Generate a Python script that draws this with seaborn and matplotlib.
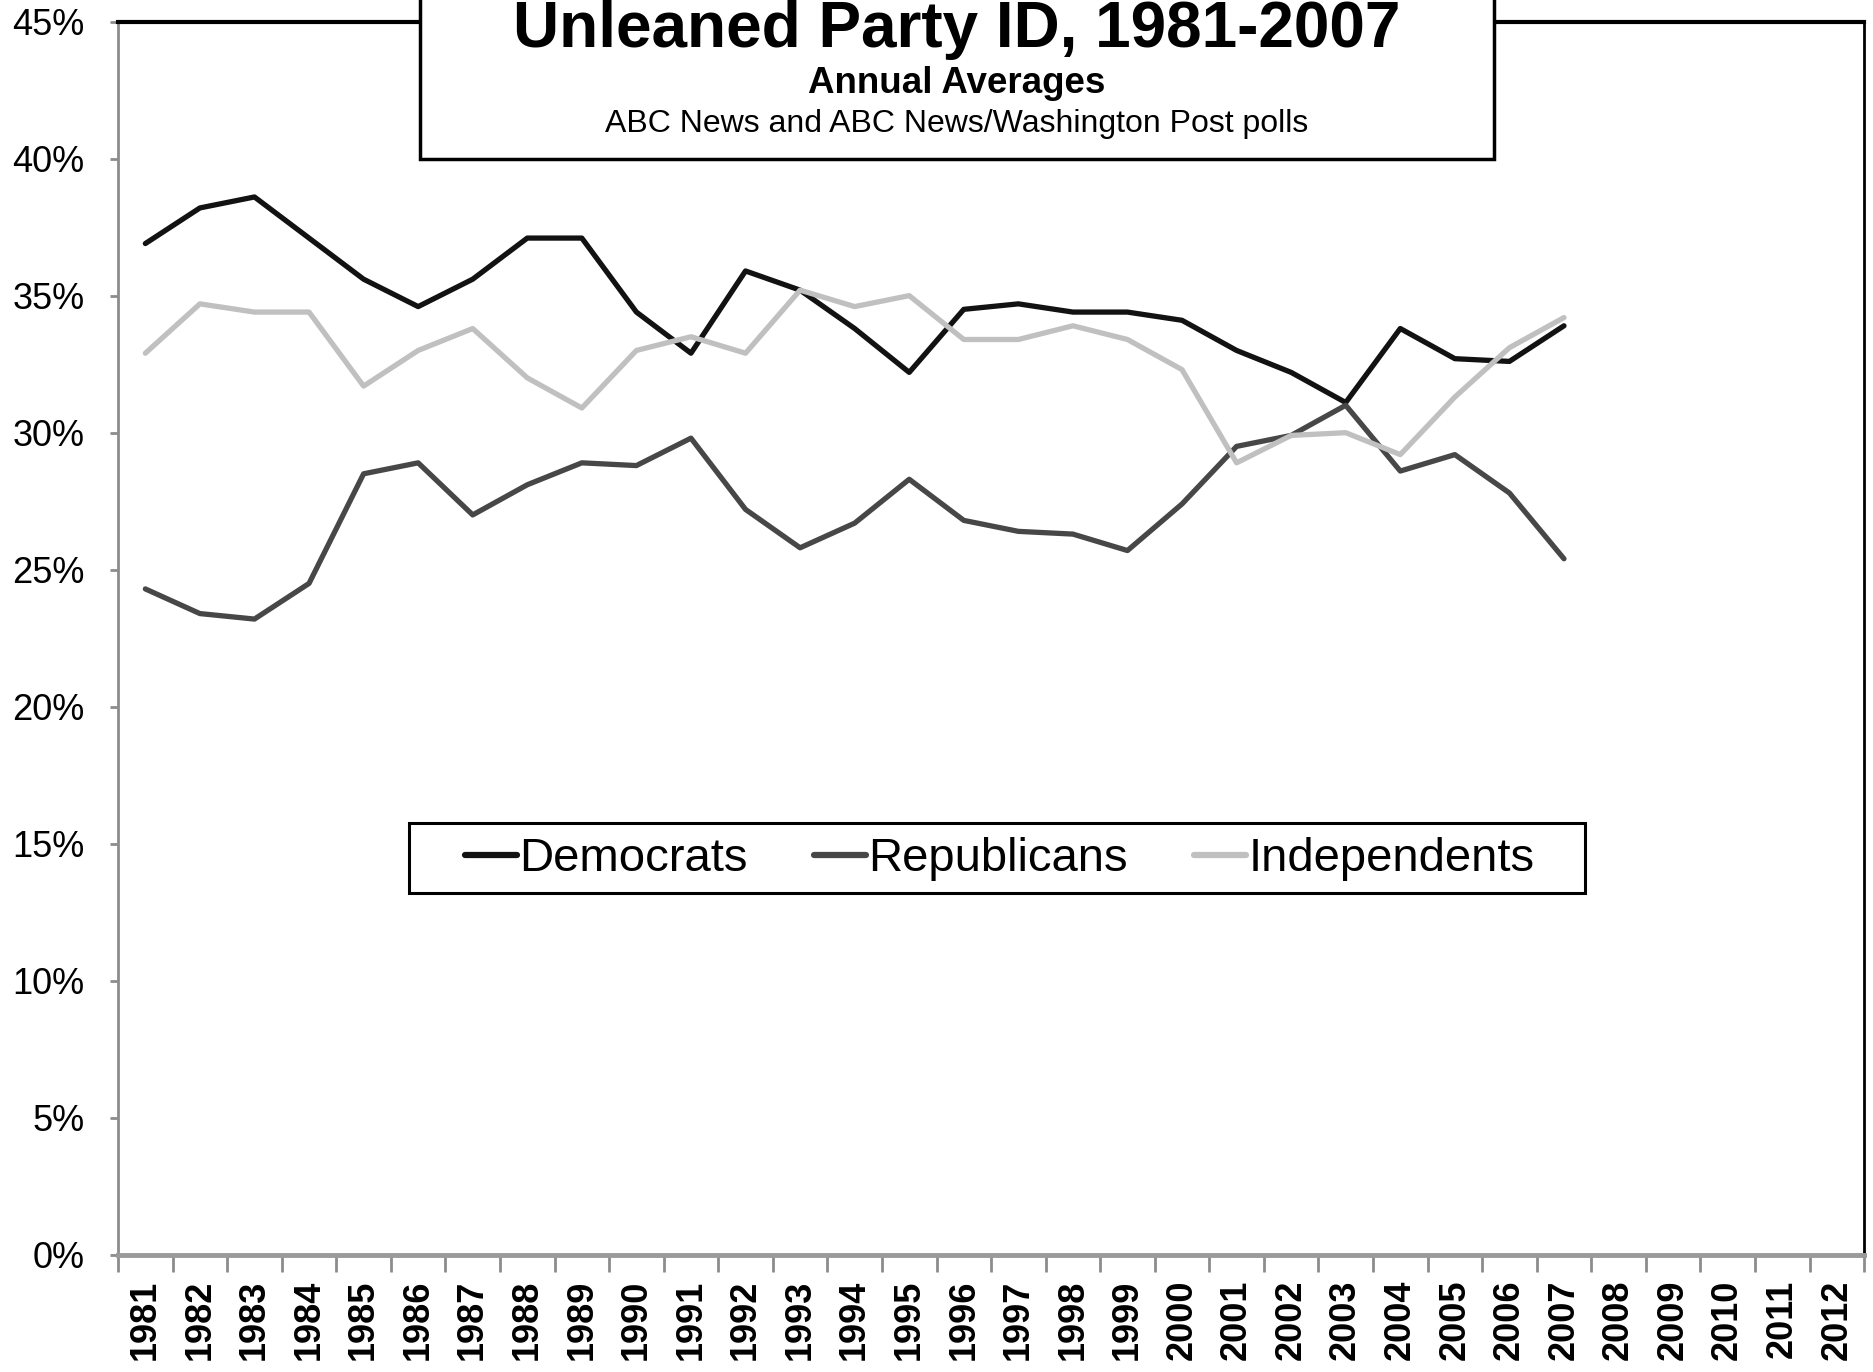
import matplotlib
matplotlib.use("Agg")
import matplotlib.pyplot as plt
import numpy as np
import pandas as pd
import seaborn as sns
from matplotlib.patches import Rectangle
from matplotlib.ticker import FuncFormatter


years = list(range(1981, 2008))
all_years = list(range(1981, 2013))

democrats = [36.9, 38.2, 38.6, 37.1, 35.6, 34.6, 35.6, 37.1, 37.1, 34.4,
             32.9, 35.9, 35.2, 33.8, 32.2, 34.5, 34.7, 34.4, 34.4, 34.1,
             33.0, 32.2, 31.1, 33.8, 32.7, 32.6, 33.9]
republicans = [24.3, 23.4, 23.2, 24.5, 28.5, 28.9, 27.0, 28.1, 28.9, 28.8,
               29.8, 27.2, 25.8, 26.7, 28.3, 26.8, 26.4, 26.3, 25.7, 27.4,
               29.5, 29.9, 31.0, 28.6, 29.2, 27.8, 25.4]
independents = [32.9, 34.7, 34.4, 34.4, 31.7, 33.0, 33.8, 32.0, 30.9, 33.0,
                33.5, 32.9, 35.2, 34.6, 35.0, 33.4, 33.4, 33.9, 33.4, 32.3,
                28.9, 29.9, 30.0, 29.2, 31.3, 33.1, 34.2]

series = ["Democrats", "Republicans", "Independents"]
colors = ["#121212", "#474747", "#c0c0c0"]

df = pd.DataFrame({
    "year": years * 3,
    "value": democrats + republicans + independents,
    "party": np.repeat(series, len(years)),
})

sns.set_style("white")
plt.rcParams["font.family"] = ["Liberation Sans", "DejaVu Sans"]
plt.rcParams["text.color"] = "black"
plt.rcParams["xtick.color"] = "black"
plt.rcParams["ytick.color"] = "black"

fig = plt.figure(figsize=(18.74, 13.72), dpi=100)
ax = fig.add_axes([0.063, 0.0853, 0.9317, 0.899])

sns.lineplot(data=df, x="year", y="value", hue="party", hue_order=series,
             palette=colors, linewidth=3.8, ax=ax, legend=False)

ax.set_xlim(1980.5, 2012.5)
ax.set_ylim(0, 45)
ax.set_yticks(range(0, 46, 5))
ax.yaxis.set_major_formatter(FuncFormatter(lambda v, p: f"{v:.0f}%"))
ax.tick_params(axis="y", labelsize=26, length=6, width=2, color="#8c8c8c",
               labelcolor="black", pad=18, left=True)

ax.set_xticks(all_years)
ax.set_xticklabels([str(y) for y in all_years], rotation=90, fontsize=26,
                   fontweight="bold", va="top")
ax.set_xticks(np.arange(1980.5, 2013, 1), minor=True)
ax.tick_params(axis="x", which="major", length=0, pad=18, labelcolor="black")
ax.tick_params(axis="x", which="minor", length=12, width=2, color="#8c8c8c",
               bottom=True)
ax.set_xlabel("")
ax.set_ylabel("")

for side in ["left", "right", "top", "bottom"]:
    ax.spines[side].set_visible(True)
ax.spines["left"].set_color("#8c8c8c")
ax.spines["left"].set_linewidth(2)
ax.spines["bottom"].set_color("#9a9a9a")
ax.spines["bottom"].set_linewidth(3.5)
ax.spines["top"].set_color("black")
ax.spines["top"].set_linewidth(3)
ax.spines["right"].set_color("black")
ax.spines["right"].set_linewidth(2)

# legend box drawn separately so its padding matches the reference
ax.add_patch(Rectangle((0.1667, 0.2935), 0.6735, 0.0567,
                       transform=ax.transAxes, facecolor="white",
                       edgecolor="black", linewidth=2.2, zorder=4))
handles = [plt.Line2D([], [], color=c, linewidth=4.5) for c in colors]
leg = ax.legend(handles, series, loc="center", bbox_to_anchor=(0.505, 0.321),
                ncol=3, fontsize=34, frameon=False,
                handlelength=1.1, handletextpad=0.05, columnspacing=1.4,
                borderpad=0.2)
leg.set_zorder(5)

# title box
box = Rectangle((420 / 1874, 1 - 159 / 1372), (1494 - 420) / 1874, 0.2,
                transform=fig.transFigure, facecolor="white",
                edgecolor="black", linewidth=2.5, zorder=5, clip_on=False)
fig.add_artist(box)
fig.text(957 / 1874, 1 - 47 / 1372, "Unleaned Party ID, 1981-2007",
         fontsize=46, fontweight="bold", ha="center", va="baseline", zorder=6)
fig.text(957 / 1874, 1 - 93 / 1372, "Annual Averages",
         fontsize=26.5, fontweight="bold", ha="center", va="baseline", zorder=6)
fig.text(957 / 1874, 1 - 132 / 1372,
         "ABC News and ABC News/Washington Post polls",
         fontsize=23, ha="center", va="baseline", zorder=6)

fig.savefig("out.png", dpi=100)
